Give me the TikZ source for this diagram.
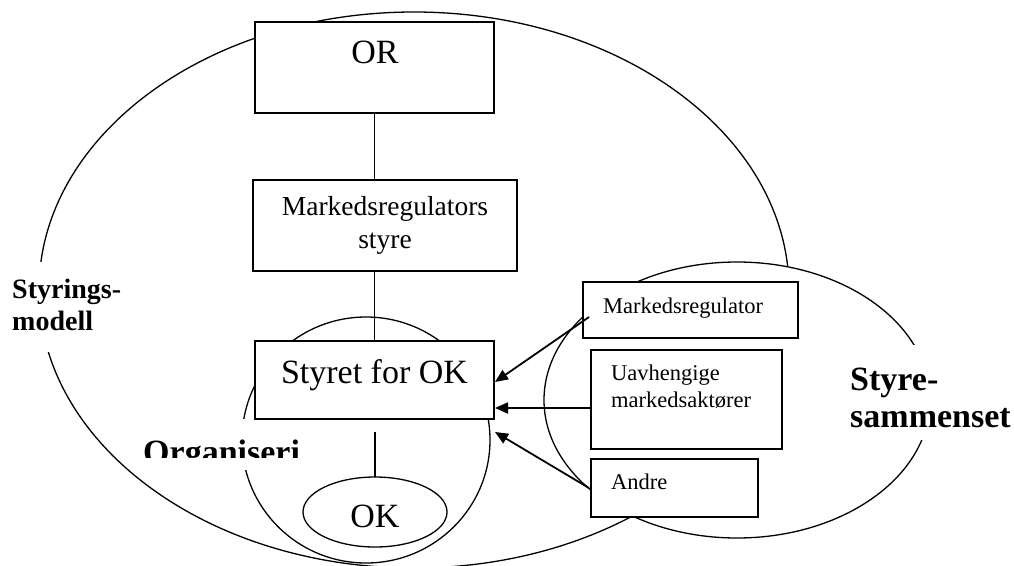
\documentclass[tikz,border=0pt]{standalone}
\usepackage{fontspec}
\setmainfont{Liberation Serif}
\usetikzlibrary{arrows.meta}
\begin{document}
\begin{tikzpicture}[x=1pt,y=-1pt,
  ring/.style={draw, line width=1.3pt},
  box/.style={draw, line width=1.8pt, fill=white, inner sep=0pt},
  link/.style={draw, line width=1.3pt},
  arr/.style={draw, line width=1.8pt, -{Triangle[length=13pt,width=11pt]}},
  big/.style={font=\fontsize{34}{38}\selectfont, inner sep=0pt},
  mid/.style={font=\fontsize{27.5}{33}\selectfont, inner sep=0pt},
  small/.style={font=\fontsize{22.5}{27}\selectfont, inner sep=0pt},
  lbl/.style={font=\bfseries\fontsize{28}{32}\selectfont, inner sep=0pt},
  lblbig/.style={font=\bfseries\fontsize{34}{38}\selectfont, inner sep=0pt}]
\useasboundingbox[fill=white] (0,0) rectangle (1014,565);

% ellipses
\draw[ring] (414,290) ellipse [x radius=375pt, y radius=278pt];
\draw[ring, fill=white] (737,400) ellipse [x radius=193pt, y radius=138pt];
\draw[ring] (366,440) ellipse [x radius=124pt, y radius=123pt];

% left label
\fill[white] (5,262) rectangle (128,352);
\node[lbl, anchor=base west] (styr1) at (12,298) {Styrings-};
\node[lbl, anchor=base west] (styr2) at (12,330) {modell};

% Organiseri label
\fill[white] (138,419) rectangle (312,470);
\begin{scope}
  \clip (138,419) rectangle (312,457);
  \node[lblbig, anchor=base west] (org) at (143,463) {Organiseri};
\end{scope}

% right label
\fill[white] (845,345) rectangle (1014,440);
\begin{scope}
  \clip (845,345) rectangle (1014,429);
  \node[lblbig, anchor=base west] (sty1) at (850,390) {Styre-};
  \node[lblbig, anchor=base west] (sty2) at (850,427) {sammenset};
\end{scope}

% boxes
\node[box, minimum width=239pt, minimum height=91pt] (or) at (374.5,67.5) {};
\node[big, anchor=base] (ortext) at (375,63) {OR};

\node[box, minimum width=264pt, minimum height=91pt] (mrs) at (385,225.5) {};
\node[mid, anchor=base] (mrs1) at (385,215) {Markedsregulators};
\node[mid, anchor=base] (mrs2) at (385,248) {styre};

\node[box, minimum width=239pt, minimum height=78pt] (sok) at (374.5,380) {};
\node[big, anchor=base] (soktext) at (374.5,383) {Styret for OK};

\draw[line width=1.3pt, fill=white] (375,512) ellipse [x radius=72pt, y radius=35pt];
\node[big, anchor=base] (ok) at (375,527) {OK};
\coordinate (oktop) at (375,477);

\node[box, minimum width=215pt, minimum height=56pt] (mreg) at (690.5,310) {};
\node[small, anchor=base west] (mregtext) at (603,313) {Markedsregulator};

\node[box, minimum width=191pt, minimum height=99pt] (uav) at (686.5,399.5) {};
\node[small, anchor=base west] (uav1) at (611,380) {Uavhengige};
\node[small, anchor=base west] (uav2) at (611,407) {markedsaktører};

\node[box, minimum width=167pt, minimum height=58pt] (andre) at (674.5,488) {};
\node[small, anchor=base west] (andretext) at (611,489) {Andre};

% connectors
\draw[link] (or.south) -- (or.south |- mrs.north);
\draw[link] (or.south |- mrs.south) -- (sok.north);
\coordinate (sokbelow) at (375,432);
\draw[link] (sokbelow) -- (oktop);

% arrows
\coordinate (a1s) at (589,317);
\coordinate (a1e) at (495,382);
\coordinate (a2s) at (591,408);
\coordinate (a2e) at (495,408);
\coordinate (a3s) at (589,488);
\coordinate (a3e) at (495,432);
\draw[arr] (a1s) -- (a1e);
\draw[arr] (a2s) -- (a2e);
\draw[arr] (a3s) -- (a3e);
\end{tikzpicture}
\end{document}
